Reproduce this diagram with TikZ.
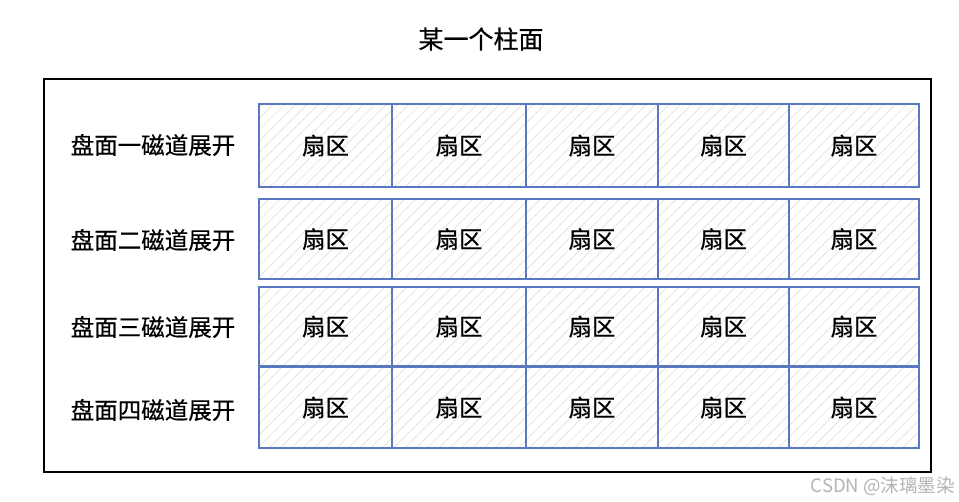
\documentclass[tikz,border=0pt]{standalone}
\usepackage{fontspec}
\newfontfamily\cjk[FakeBold=0.5]{Noto Sans CJK SC}
\usetikzlibrary{patterns.meta}
\definecolor{cellblue}{HTML}{5879C0}
\definecolor{hatch}{HTML}{D8D8D8}
\definecolor{wm}{HTML}{B4B4B4}
\tikzset{
  cell/.style={draw=cellblue, line width=1.8pt, inner sep=0pt, outer sep=0pt,
    pattern={Lines[angle=45,distance=8pt,line width=0.5pt]}, pattern color=hatch,
    font=\cjk\fontsize{23.5}{26}\selectfont},
  tracklabel/.style={font=\cjk\fontsize{23.5}{26}\selectfont, inner sep=0pt},
  titletext/.style={font=\cjk\fontsize{25}{28}\selectfont, inner sep=0pt},
  frame/.style={draw=black, line width=2.4pt},
  watermark/.style={font=\fontspec{Noto Sans CJK SC}\fontsize{18.5}{20}\selectfont, text=wm, inner sep=0pt}
}
\begin{document}
\begin{tikzpicture}[x=1pt,y=-1pt]
\useasboundingbox (0,0) rectangle (959,502);
\fill[white] (0,0) rectangle (959,502);
\node[titletext] (title) at (481,39) {某一个柱面};
\draw[frame] (44,79) rectangle (931,472);
\foreach \r/\tp/\bt/\ly/\lab in {1/104/187/145/盘面一磁道展开, 2/199/279/240/盘面二磁道展开, 3/287/366/327/盘面三磁道展开, 4/367/448/410/盘面四磁道展开} {
  \pgfmathsetmacro{\cy}{(\tp+\bt)/2}
  \pgfmathsetmacro{\hh}{\bt-\tp}
  \node[tracklabel] (label\r) at (153,\ly) {\lab};
  \foreach \c/\lf/\rt in {1/259/392, 2/392/526, 3/526/658, 4/658/789, 5/789/919} {
    \pgfmathsetmacro{\cx}{(\lf+\rt)/2}
    \pgfmathsetmacro{\ww}{\rt-\lf}
    \node[cell, minimum width=\ww pt, minimum height=\hh pt] (cell\r\c) at (\cx,\cy) {扇区};
  }
}
\node[watermark, anchor=east] (wmark) at (955,486) {CSDN @沫璃墨染};
\end{tikzpicture}
\end{document}
